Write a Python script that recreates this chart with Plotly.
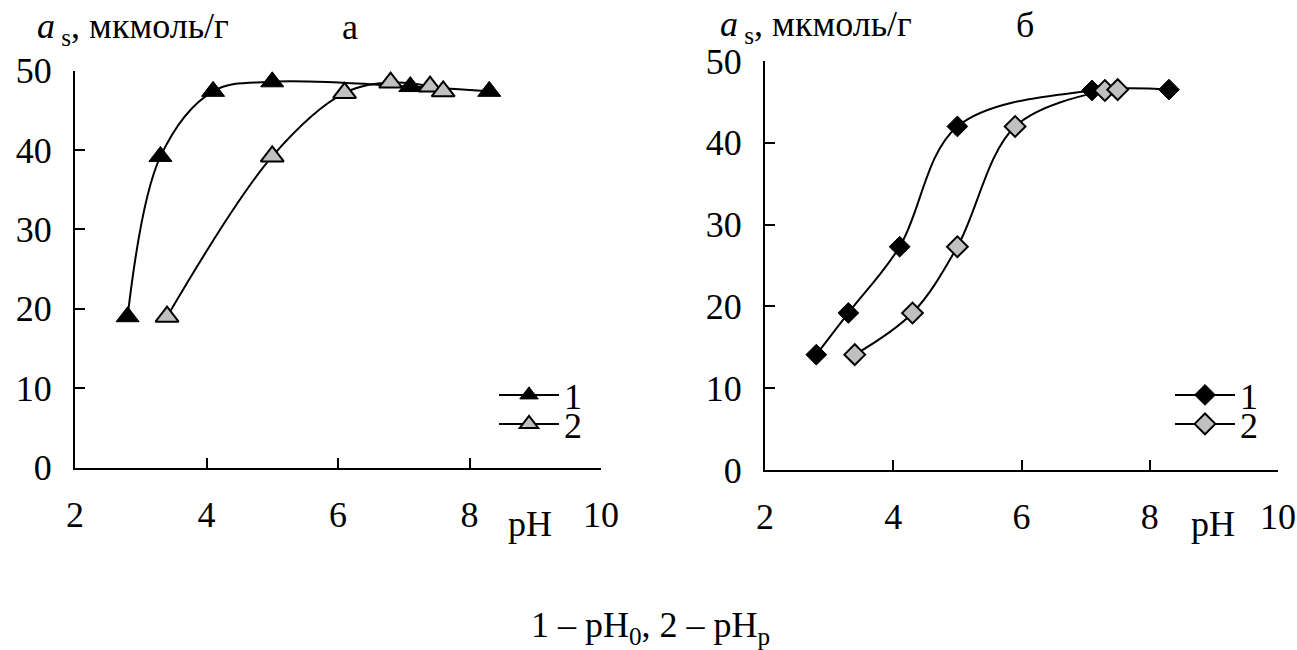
import plotly.graph_objects as go

# ---- data ----
ph_a1 = [2.8, 3.3, 4.1, 5.0, 7.1, 8.3]
as_a1 = [19.0, 39.2, 47.4, 48.6, 48.0, 47.4]
ph_a2 = [3.4, 5.0, 6.1, 6.8, 7.4, 7.6]
as_a2 = [19.0, 39.2, 47.2, 48.5, 48.0, 47.4]

ph_b1 = [2.8, 3.3, 4.1, 5.0, 7.1, 8.3]
as_b1 = [14.1, 19.2, 27.3, 42.0, 46.4, 46.5]
ph_b2 = [3.4, 4.3, 5.0, 5.9, 7.3, 7.5]
as_b2 = [14.1, 19.2, 27.3, 42.0, 46.4, 46.5]

series_names = ["1", "2"]
x_ticks = [2, 4, 6, 8, 10]
y_ticks = [0, 10, 20, 30, 40, 50]

FONT = "Liberation Serif"
FS = 36
GRAY = "#c0c0c0"

fig = go.Figure()

def add(x, y, name, symbol, fill, xa, ya, legend, size):
    fig.add_trace(go.Scatter(
        x=x, y=y, name=name, mode="lines+markers",
        line=dict(color="black", width=2, shape="spline", smoothing=1.0),
        marker=dict(symbol=symbol, size=size, color=fill,
                    line=dict(color="black", width=2 if fill != "black" else 1)),
        xaxis=xa, yaxis=ya, legend=legend, showlegend=True,
    ))

add(ph_a1, as_a1, series_names[0], "triangle-up", "black", "x", "y", "legend", 20)
add(ph_a2, as_a2, series_names[1], "triangle-up", GRAY, "x", "y", "legend2", 20)
add(ph_b1, as_b1, series_names[0], "diamond", "black", "x2", "y2", "legend3", 16)
add(ph_b2, as_b2, series_names[1], "diamond", GRAY, "x2", "y2", "legend4", 16)

W, H = 1297, 650

def xax(domain, anchor):
    return dict(domain=domain, range=[2, 10], tickvals=x_ticks, showgrid=False,
                zeroline=False, showline=True, linecolor="black", linewidth=2,
                ticks="inside", ticklen=10, tickwidth=2, tickcolor="black",
                ticklabelstandoff=14, automargin=False, anchor=anchor,
                ticklabeloverflow="allow",
                tickfont=dict(family=FONT, size=FS, color="black"))

def yax(domain, anchor):
    return dict(domain=domain, range=[0, 50], tickvals=y_ticks, showgrid=False,
                zeroline=False, showline=True, linecolor="black", linewidth=2,
                ticks="inside", ticklen=10, tickwidth=2, tickcolor="black",
                ticklabelstandoff=14, automargin=False, anchor=anchor,
                ticklabeloverflow="allow",
                tickfont=dict(family=FONT, size=FS, color="black"))

xa = xax([75 / W, 601 / W], "y")
xb = xax([765 / W, 1278 / W], "y2")
ya = yax([1 - 467.5 / H, 1 - 70.7 / H], "x")
yb = yax([1 - 470 / H, 1 - 61 / H], "x2")

def leg(x, y):
    return dict(x=x / W, y=1 - y / H, xanchor="left", yanchor="middle",
                bgcolor="rgba(0,0,0,0)", borderwidth=0, tracegroupgap=0,
                font=dict(family=FONT, size=FS, color="black"), itemwidth=60)

ann = []
def text(x, y, t, size=FS, xanchor="center"):
    ann.append(dict(x=x / W, y=1 - y / H, xref="paper", yref="paper", text=t,
                    showarrow=False, xanchor=xanchor, yanchor="middle",
                    font=dict(family=FONT, size=size, color="black")))

ytitle = "<i>a</i><sub> s</sub>, мкмоль/г"
text(35, 29, ytitle, xanchor="left")
text(718, 26, ytitle, xanchor="left")
text(350, 27, "а")
text(1025, 25, "б")
text(530, 524, "pH")
text(1213, 524, "pH")
text(650, 627, "1 – pH<sub>0</sub>, 2 – pH<sub>p</sub>")

fig.update_layout(
    template="none",
    width=W, height=H, margin=dict(l=0, r=0, t=0, b=0, autoexpand=False),
    paper_bgcolor="white", plot_bgcolor="white",
    xaxis=xa, yaxis=ya, xaxis2=xb, yaxis2=yb,
    legend=leg(494, 395), legend2=leg(494, 424),
    legend3=leg(1170, 395), legend4=leg(1170, 424),
    annotations=ann,
    font=dict(family=FONT, size=FS, color="black"),
)

fig.write_html("out.html")
